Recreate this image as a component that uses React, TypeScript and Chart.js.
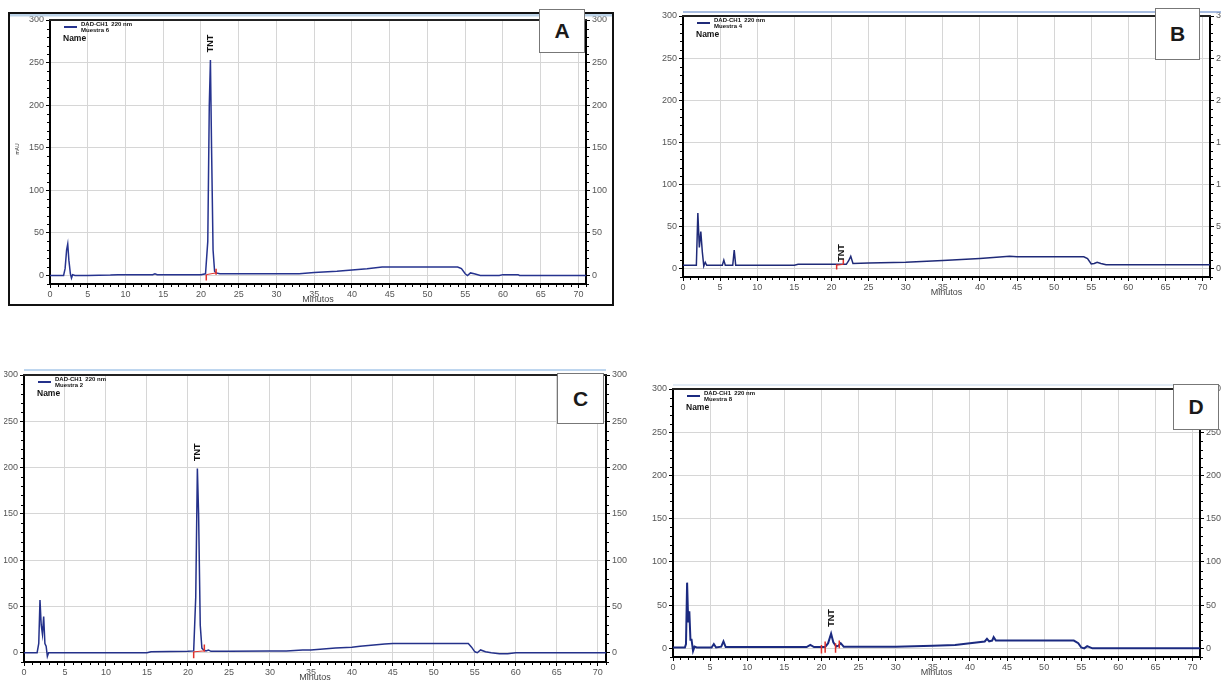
import React, { useEffect, useRef } from "react";
import { Chart, registerables } from "chart.js";

Chart.register(...registerables);

const FONT = "'Liberation Sans', Arial, Helvetica, sans-serif";

const xTickValues = [0, 5, 10, 15, 20, 25, 30, 35, 40, 45, 50, 55, 60, 65, 70];
const yTickValues = [0, 50, 100, 150, 200, 250, 300];

// ---- Panel A (Muestra 6)
const aTime = [0, 1.8, 2.0, 2.2, 2.35, 2.5, 2.7, 2.85, 3.0, 3.3, 5, 8, 9, 12, 13.6, 13.9, 14.2, 17, 20, 20.6, 20.9, 21.1, 21.25, 21.4, 21.6, 21.8, 22.0, 22.5, 25, 30, 33, 35, 38, 40, 42, 44, 45, 47, 50, 53, 54, 54.5, 55, 55.3, 55.7, 56.2, 57, 59.5, 60, 62, 62.2, 71];
const aVal = [0, 0, 8, 30, 37, 18, 2, -3, 1, 0, 0, 0.5, 1, 1, 1, 2, 1, 1, 1, 2, 40, 200, 253, 150, 30, 5, 3, 2, 2, 2, 2, 3.5, 5, 6.5, 8, 10, 10, 10, 10, 10, 10, 8, 2, 0, 3, 2, 0, 0, 1, 1, 0, 0];
const aRedTime = [20.7, 22.0];
const aRedLow = [-6, 1];
const aRedHigh = [1, 8];
const aRedBase = [1, 3];

// ---- Panel B (Muestra 4)
const bTime = [0, 1.8, 2.0, 2.2, 2.4, 2.6, 2.8, 3.0, 3.2, 5.3, 5.5, 5.7, 6.7, 6.9, 7.1, 15, 15.5, 16, 20, 22, 22.3, 22.6, 22.9, 25, 30, 35, 40, 44, 45, 50, 54, 54.5, 55, 55.4, 55.8, 56.3, 57, 71];
const bVal = [4, 4, 66, 25, 44, 20, 3, 7.5, 4, 4, 10, 4, 4, 22, 4, 4, 5, 5, 5, 5, 9, 14.5, 6, 6.5, 7.5, 9.5, 12, 14.5, 14, 14, 14, 12, 5.5, 6, 7.5, 6, 4.5, 4.5];
const bRedTime = [20.7, 21.6];
const bRedLow = [-1, 5];
const bRedHigh = [5, 11];
const bRedBase = [4, 5];

// ---- Panel C (Muestra 2)
const cTime = [0, 1.6, 1.8, 1.95, 2.1, 2.25, 2.4, 2.55, 2.7, 2.85, 3.0, 3.3, 15, 15.5, 20, 20.7, 20.95, 21.15, 21.3, 21.5, 21.7, 21.9, 22.2, 22.5, 22.8, 25, 30, 32, 34, 35, 38, 40, 41, 44, 45, 50, 54.2, 54.6, 55.0, 55.3, 55.7, 56.3, 57, 58, 59, 60, 71];
const cVal = [0, 0, 10, 57, 30, 20, 39, 10, 7, -4, 0, 0, 0, 1, 1.5, 2, 60, 199, 150, 30, 5, 3, 2, 3, 1.5, 1.5, 2, 2, 3, 3, 5, 6, 7, 9.5, 10, 10, 10, 6, 1, 0, 3, 1, 0, -1, -1, 0, 0];
const cRedTime = [20.7, 22.0];
const cRedLow = [-6, 1];
const cRedHigh = [1, 9];
const cRedBase = [1, 2];

// ---- Panel D (Muestra 8)
const dTime = [0, 1.6, 1.75, 1.9, 2.05, 2.2, 2.35, 2.5, 2.7, 2.9, 3.2, 5.2, 5.5, 5.8, 6.5, 6.8, 7.1, 18, 18.5, 19, 20.5, 20.9, 21.3, 21.6, 22.0, 22.3, 22.6, 23.0, 25, 30, 35, 38, 40, 42, 42.3, 42.6, 43, 43.2, 43.5, 45, 50, 54, 54.6, 55, 55.4, 55.8, 56.5, 71];
const dVal = [1, 1, 5, 76, 30, 43, 10, 10, -3, 2, 1, 1, 5, 1, 2, 8, 1.5, 1.5, 4, 1.5, 1.5, 6, 17, 7, 2, 3, 6, 2, 2, 2, 3, 4, 6, 8, 11, 8, 9, 13, 9, 9, 9, 9, 6, 1, 0, 2.5, 0, 0];
const dRedTime = [20.0, 20.5, 21.9, 22.4];
const dRedLow = [-6, -5, -5, 0];
const dRedHigh = [4, 8, 6, 9];
const dRedBase: number[] = [];

const panelLetters = ["A", "B", "C", "D"];
const sampleNames = ["Muestra 6", "Muestra 4", "Muestra 2", "Muestra 8"];
const channelName = "DAD-CH1  220 nm";
const peakLabel = "TNT";
const tntTime = [21.25, 21.4, 21.2, 21.3];
const tntLabelBase = [262, 8, 207, 25];

type Cfg = {
  idx: number;
  time: number[];
  vals: number[];
  redT: number[];
  redLo: number[];
  redHi: number[];
  redBase: number[];
  canvas: { left: number; top: number; w: number; h: number };
  pad: { left: number; right: number; top: number; bottom: number };
  yW: number;
  y2W: number;
  xH: number;
  lineW: number;
  color: string;
  blueTop: { x0: number; x1: number; dy: number; w: number; color: string } | null;
  mAU: boolean;
};

const PANELS: Cfg[] = [
  {
    idx: 0, time: aTime, vals: aVal, redT: aRedTime, redLo: aRedLow, redHi: aRedHigh, redBase: aRedBase,
    canvas: { left: 0, top: 0, w: 620, h: 310 },
    pad: { left: 10, right: 4, top: 20, bottom: 6 }, yW: 40, y2W: 30, xH: 20,
    lineW: 1.5, color: "#26338f",
    blueTop: { x0: 9, x1: 613, dy: 5, w: 3, color: "#bcd3e8" }, mAU: true,
  },
  {
    idx: 1, time: bTime, vals: bVal, redT: bRedTime, redLo: bRedLow, redHi: bRedHigh, redBase: bRedBase,
    canvas: { left: 620, top: 0, w: 601, h: 310 },
    pad: { left: 23, right: 0, top: 16, bottom: 13 }, yW: 40, y2W: 11, xH: 20,
    lineW: 1.5, color: "#1f2a78",
    blueTop: { x0: 683, x1: 1221, dy: 4, w: 1.5, color: "#8aa6d6" }, mAU: false,
  },
  {
    idx: 2, time: cTime, vals: cVal, redT: cRedTime, redLo: cRedLow, redHi: cRedHigh, redBase: cRedBase,
    canvas: { left: 0, top: 340, w: 640, h: 340 },
    pad: { left: 4, right: 4, top: 35, bottom: 0 }, yW: 20, y2W: 30, xH: 18,
    lineW: 1.5, color: "#24318a",
    blueTop: { x0: 24, x1: 606, dy: 5, w: 1.5, color: "#a9c8ea" }, mAU: false,
  },
  {
    idx: 3, time: dTime, vals: dVal, redT: dRedTime, redLo: dRedLow, redHi: dRedHigh, redBase: dRedBase,
    canvas: { left: 640, top: 340, w: 581, h: 340 },
    pad: { left: 3, right: 0, top: 49, bottom: 3 }, yW: 30, y2W: 21, xH: 20,
    lineW: 2, color: "#1b2a80",
    blueTop: { x0: 673, x1: 1200, dy: 4, w: 1.5, color: "#d8e4f2" }, mAU: false,
  },
];

const letterBoxes = [
  { left: 539, top: 9, w: 46, h: 44 },
  { left: 1155, top: 8, w: 45, h: 52 },
  { left: 557, top: 373, w: 47, h: 51 },
  { left: 1173, top: 384, w: 46, h: 46 },
];

function redSegments(t: number[], lo: number[], hi: number[]) {
  const pts: { x: number; y: number | null }[] = [];
  t.forEach((tt, i) => {
    pts.push({ x: tt, y: lo[i] }, { x: tt, y: hi[i] }, { x: tt, y: null });
  });
  return pts;
}

function makeExtras(cfg: Cfg) {
  return {
    id: "extras" + cfg.idx,
    afterDraw(chart: any) {
      const ctx: CanvasRenderingContext2D = chart.ctx;
      const a = chart.chartArea;
      const xs = chart.scales.x;
      const ys = chart.scales.y;
      ctx.save();
      // light blue strip above the plot
      if (cfg.blueTop) {
        ctx.strokeStyle = cfg.blueTop.color;
        ctx.lineWidth = cfg.blueTop.w;
        ctx.beginPath();
        ctx.moveTo(cfg.blueTop.x0 - cfg.canvas.left, a.top - cfg.blueTop.dy);
        ctx.lineTo(cfg.blueTop.x1 - cfg.canvas.left, a.top - cfg.blueTop.dy);
        ctx.stroke();
      }
      // dark top border
      ctx.strokeStyle = "#222";
      ctx.lineWidth = 2;
      ctx.beginPath();
      ctx.moveTo(a.left - 1, a.top);
      ctx.lineTo(a.right + 1, a.top);
      ctx.stroke();

      // minor ticks
      ctx.strokeStyle = "#000";
      ctx.lineWidth = 1;
      ctx.beginPath();
      for (let m = 1; m <= 71; m++) {
        if (m % 5 === 0) continue;
        const px = Math.round(xs.getPixelForValue(m)) + 0.5;
        ctx.moveTo(px, a.bottom + 1);
        ctx.lineTo(px, a.bottom + 3);
      }
      for (let v = -10; v <= 300; v += 10) {
        if (v % 50 === 0) continue;
        const py = Math.round(ys.getPixelForValue(v)) + 0.5;
        ctx.moveTo(a.left - 3, py);
        ctx.lineTo(a.left - 1, py);
        ctx.moveTo(a.right + 1, py);
        ctx.lineTo(a.right + 3, py);
      }
      ctx.stroke();

      // legend
      ctx.strokeStyle = cfg.color;
      ctx.lineWidth = 2;
      ctx.beginPath();
      ctx.moveTo(a.left + 14, a.top + 7);
      ctx.lineTo(a.left + 27, a.top + 7);
      ctx.stroke();
      ctx.fillStyle = "#111";
      ctx.textAlign = "left";
      ctx.textBaseline = "middle";
      ctx.font = `bold 6px ${FONT}`;
      ctx.fillText(channelName, a.left + 31, a.top + 4);
      ctx.fillText(sampleNames[cfg.idx], a.left + 31, a.top + 10);
      ctx.font = `bold 8.5px ${FONT}`;
      ctx.fillText("Name", a.left + 13, a.top + 19);

      // peak label
      const px = xs.getPixelForValue(tntTime[cfg.idx]);
      const py = ys.getPixelForValue(tntLabelBase[cfg.idx]);
      ctx.save();
      ctx.translate(px, py);
      ctx.rotate(-Math.PI / 2);
      ctx.font = `bold 9px ${FONT}`;
      ctx.fillStyle = "#111";
      ctx.textAlign = "left";
      ctx.textBaseline = "middle";
      ctx.fillText(peakLabel, 0, 0);
      ctx.restore();

      // axis title
      ctx.font = `9px ${FONT}`;
      ctx.fillStyle = "#444";
      ctx.textAlign = "center";
      ctx.textBaseline = "middle";
      ctx.fillText("Minutos", (a.left + a.right) / 2, a.bottom + 16);

      if (cfg.mAU) {
        ctx.save();
        ctx.translate(18, (a.top + a.bottom) / 2 - 3);
        ctx.rotate(-Math.PI / 2);
        ctx.font = `5px ${FONT}`;
        ctx.fillStyle = "#333";
        ctx.textAlign = "center";
        ctx.fillText("mAU", 0, 0);
        ctx.restore();
      }
      ctx.restore();
    },
  };
}

function Panel({ cfg }: { cfg: Cfg }) {
  const ref = useRef<HTMLCanvasElement>(null);
  useEffect(() => {
    const tickFont = { size: 9, family: FONT };
    const datasets: any[] = [
      {
        data: redSegments(cfg.redT, cfg.redLo, cfg.redHi),
        borderColor: "#e0302a",
        borderWidth: 1.5,
        pointRadius: 0,
        spanGaps: false,
        tension: 0,
      },
    ];
    if (cfg.redBase.length) {
      datasets.push({
        data: cfg.redT.map((t, i) => ({ x: t, y: cfg.redBase[i] })),
        borderColor: "#e0302a",
        borderWidth: 1,
        pointRadius: 0,
        tension: 0,
      });
    }
    datasets.push({
      data: cfg.time.map((t, i) => ({ x: t, y: cfg.vals[i] })),
      borderColor: cfg.color,
      borderWidth: cfg.lineW,
      pointRadius: 0,
      tension: 0,
    });
    const yAxisCommon = {
      type: "linear",
      min: -10,
      max: 300,
      afterBuildTicks: (s: any) => {
        s.ticks = yTickValues.map((v) => ({ value: v }));
      },
      ticks: { font: tickFont, color: "#555", padding: 2, autoSkip: false },
      border: { color: "#000", width: 2 },
    };
    const chart = new Chart(ref.current as HTMLCanvasElement, {
      type: "line",
      data: { datasets },
      options: {
        responsive: false,
        maintainAspectRatio: false,
        animation: false,
        layout: { padding: cfg.pad },
        plugins: { legend: { display: false }, tooltip: { enabled: false } },
        scales: {
          x: {
            type: "linear",
            min: 0,
            max: 71,
            afterBuildTicks: (s: any) => {
              s.ticks = xTickValues.map((v) => ({ value: v }));
            },
            afterFit: (s: any) => {
              s.height = cfg.xH;
            },
            grid: { color: "#d6d6d6", tickColor: "#000", tickLength: 4 },
            border: { color: "#000", width: 2 },
            ticks: { font: tickFont, color: "#555", padding: 1, maxRotation: 0, autoSkip: false },
          },
          y: {
            ...yAxisCommon,
            position: "left",
            afterFit: (s: any) => {
              s.width = cfg.yW;
            },
            grid: { color: "#d6d6d6", tickColor: "#000", tickLength: 4 },
          },
          y2: {
            ...yAxisCommon,
            position: "right",
            afterFit: (s: any) => {
              s.width = cfg.y2W;
            },
            grid: { drawOnChartArea: false, tickColor: "#000", tickLength: 4 },
          },
        },
      } as any,
      plugins: [makeExtras(cfg)],
    });
    return () => chart.destroy();
  }, [cfg]);
  return (
    <canvas
      ref={ref}
      width={cfg.canvas.w}
      height={cfg.canvas.h}
      style={{
        position: "absolute",
        left: cfg.canvas.left,
        top: cfg.canvas.top,
        width: cfg.canvas.w,
        height: cfg.canvas.h,
      }}
    />
  );
}

export default function App() {
  return (
    <div style={{ position: "absolute", left: 0, top: 0, width: 1221, height: 680, background: "#fff", overflow: "hidden" }}>
      {PANELS.map((p) => (
        <Panel key={p.idx} cfg={p} />
      ))}
      <div
        style={{
          position: "absolute",
          left: 8,
          top: 12,
          width: 602,
          height: 290,
          border: "2px solid #111",
          pointerEvents: "none",
        }}
      />
      {letterBoxes.map((b, i) => (
        <div
          key={i}
          style={{
            position: "absolute",
            left: b.left,
            top: b.top,
            width: b.w,
            height: b.h,
            boxSizing: "border-box",
            background: "#fff",
            border: "1px solid #777",
            display: "flex",
            alignItems: "center",
            justifyContent: "center",
            fontFamily: FONT,
            fontWeight: "bold",
            fontSize: 21,
            color: "#1a1a1a",
          }}
        >
          {panelLetters[i]}
        </div>
      ))}
    </div>
  );
}
